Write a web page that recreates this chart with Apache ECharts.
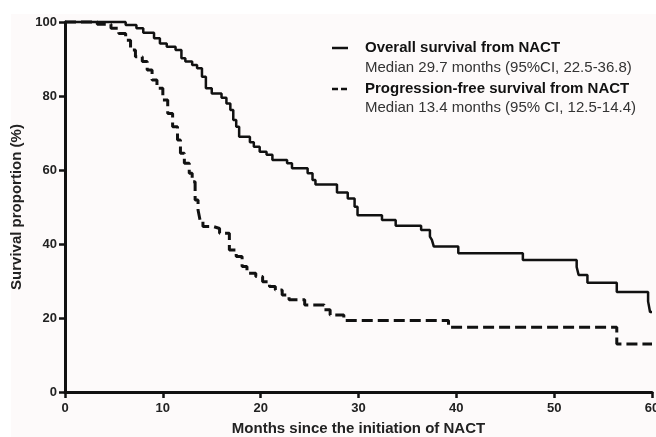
<!DOCTYPE html>
<html>
<head>
<meta charset="utf-8">
<script src="https://cdn.jsdelivr.net/npm/echarts@6/dist/echarts.min.js"></script>
<style>
  html, body { margin: 0; padding: 0; background: #fff; }
  #chart { width: 656px; height: 437px; }
</style>
</head>
<body>
<div id="chart"></div>
<script>
// Kaplan-Meier curves: [months, survival %]
var osMonths = [0, 6.2, 7.3, 8.0, 9.1, 9.7, 10.4, 11.3, 11.9, 12.3, 13.0, 13.5, 14.0, 14.4, 15.0, 16.0, 16.5, 16.9, 17.2, 17.5, 17.8, 18.9, 19.3, 19.9, 20.6, 21.2, 22.7, 23.2, 24.8, 25.3, 25.6, 27.8, 28.9, 29.6, 29.9, 32.4, 33.8, 36.4, 37.3, 37.5, 37.7, 40.2, 46.8, 52.3, 52.5, 53.4, 56.4, 59.6, 59.8, 60];
var osSurv   = [100, 99.2, 98.3, 97.1, 95.6, 94.2, 93.3, 92.4, 90.2, 89.3, 88.4, 87.5, 85.2, 82.1, 80.7, 79.5, 78.0, 76.2, 73.5, 71.7, 69.0, 67.5, 66.3, 64.9, 64.1, 62.7, 61.8, 60.5, 59.1, 57.3, 56.1, 53.9, 52.3, 50.1, 47.8, 46.5, 44.9, 43.8, 42.0, 41.1, 39.3, 37.5, 35.7, 33.8, 31.6, 29.5, 27.0, 24.5, 21.6, 21.6];

var pfsMonths = [0, 3.3, 4.7, 5.5, 6.2, 6.7, 7.2, 7.9, 8.4, 8.9, 9.4, 10.0, 10.5, 11.0, 11.5, 11.8, 12.2, 12.7, 13.0, 13.3, 13.6, 13.8, 14.1, 15.2, 15.8, 16.8, 17.5, 18.1, 18.6, 19.5, 20.2, 20.9, 21.5, 22.2, 22.9, 24.5, 26.5, 27.1, 28.5, 39.2, 56.4, 60];
var pfsSurv   = [100, 99.4, 98.3, 96.9, 95.1, 92.4, 90.6, 89.3, 87.0, 84.3, 82.1, 78.9, 75.3, 71.7, 68.1, 64.5, 61.8, 59.1, 56.8, 51.9, 49.2, 46.5, 44.7, 44.2, 42.9, 38.4, 36.6, 33.9, 32.1, 31.2, 29.8, 28.5, 27.6, 26.2, 24.9, 23.5, 22.2, 20.8, 19.3, 17.5, 13.0, 13.0];

var seriesNames = ['Overall survival from NACT', 'Progression-free survival from NACT'];
var medianTexts = ['Median 29.7 months (95%CI, 22.5-36.8)', 'Median 13.4 months (95% CI, 12.5-14.4)'];

function pairs(xs, ys) {
  return xs.map(function (x, i) { return [x, ys[i]]; });
}

var font = 'Liberation Sans';
var myChart = echarts.init(document.getElementById('chart'));

var option = {
  backgroundColor: '#ffffff',
  animation: false,
  textStyle: { fontFamily: font },
  grid: { left: 65, right: 4, top: 22, bottom: 45, containLabel: false, outerBoundsMode: 'none' },
  xAxis: {
    type: 'value',
    min: 0, max: 60, interval: 10,
    name: 'Months since the initiation of NACT',
    nameLocation: 'middle',
    nameGap: 29,
    nameTextStyle: { fontFamily: font, fontWeight: 'bold', fontSize: 15, color: '#222' },
    axisLine: { show: true, lineStyle: { color: '#111', width: 3 } },
    axisTick: { show: true, length: 6, lineStyle: { color: '#111', width: 2.5 } },
    axisLabel: { margin: 10, fontFamily: font, fontWeight: 'bold', fontSize: 13, color: '#222' },
    splitLine: { show: false }
  },
  yAxis: {
    type: 'value',
    min: 0, max: 100, interval: 20,
    name: 'Survival proportion (%)',
    nameLocation: 'middle',
    nameGap: 34,
    nameTextStyle: { fontFamily: font, fontWeight: 'bold', fontSize: 15, color: '#222' },
    axisLine: { show: true, lineStyle: { color: '#111', width: 3 } },
    axisTick: { show: true, length: 6, lineStyle: { color: '#111', width: 2.5 } },
    axisLabel: { margin: 8, fontFamily: font, fontWeight: 'bold', fontSize: 13, color: '#222' },
    splitLine: { show: false }
  },
  graphic: [
    { type: 'rect', z: -10, shape: { x: 11, y: 14, width: 645, height: 423 }, style: { fill: '#fdfafa' } },
    { type: 'line', shape: { x1: 332, y1: 48, x2: 348, y2: 48 }, style: { stroke: '#111', lineWidth: 2.5 } },
    { type: 'line', shape: { x1: 332, y1: 89, x2: 348, y2: 89 }, style: { stroke: '#111', lineWidth: 2.5, lineDash: [6, 3] } },
    { type: 'text', x: 365, y: 48, style: { text: seriesNames[0], font: 'bold 15px ' + font, fill: '#111', textVerticalAlign: 'middle' } },
    { type: 'text', x: 365, y: 68, style: { text: medianTexts[0], font: '15px ' + font, fill: '#333', textVerticalAlign: 'middle' } },
    { type: 'text', x: 365, y: 89, style: { text: seriesNames[1], font: 'bold 15px ' + font, fill: '#111', textVerticalAlign: 'middle' } },
    { type: 'text', x: 365, y: 108, style: { text: medianTexts[1], font: '15px ' + font, fill: '#333', textVerticalAlign: 'middle' } }
  ],
  series: [
    {
      name: seriesNames[0],
      type: 'line',
      step: 'end',
      showSymbol: false,
      symbol: 'none',
      clip: false,
      lineStyle: { color: '#111', width: 2.5 },
      data: pairs(osMonths, osSurv)
    },
    {
      name: seriesNames[1],
      type: 'line',
      step: 'end',
      showSymbol: false,
      symbol: 'none',
      clip: false,
      lineStyle: { color: '#111', width: 3, type: [11, 5] },
      data: pairs(pfsMonths, pfsSurv)
    }
  ]
};

myChart.setOption(option);
</script>
</body>
</html>
